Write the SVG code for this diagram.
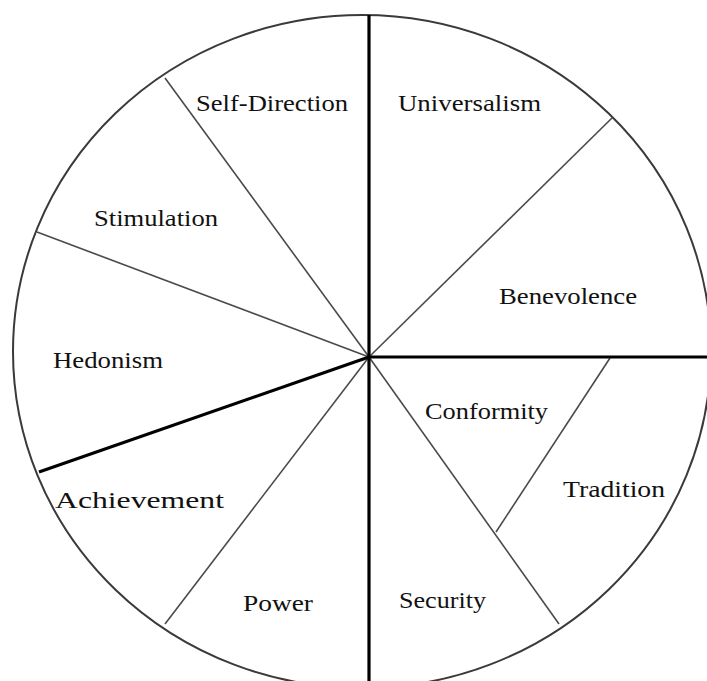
<svg xmlns="http://www.w3.org/2000/svg" width="707" height="681" viewBox="0 0 707 681">
<style>
.thin{stroke:#4a4a4a;stroke-width:1.6;fill:none}
.thick{stroke:#000;stroke-width:3.2;fill:none}
.rim{stroke:#3a3a3a;stroke-width:2;fill:#fff}
text{font-family:"Liberation Serif","Times New Roman",serif;font-size:23px;fill:#111}
</style>
<rect width="707" height="681" fill="#fff"/>
<g id="wheel">
<ellipse class="rim" cx="362" cy="351.5" rx="349" ry="336.5"/>
</g>
<g id="connectors">
<line class="thin" x1="369" y1="357" x2="165" y2="78"/>
<line class="thin" x1="369" y1="357" x2="37" y2="232"/>
<line class="thin" x1="369" y1="357" x2="613" y2="117"/>
<line class="thin" x1="369" y1="357" x2="165" y2="624"/>
<line class="thin" x1="369" y1="357" x2="559" y2="624"/>
<line class="thin" x1="610" y1="358" x2="496" y2="532"/>
<line class="thick" x1="369" y1="15" x2="369" y2="681"/>
<line class="thick" x1="369" y1="357" x2="707" y2="357"/>
<line class="thick" x1="369" y1="357" x2="39" y2="472"/>
</g>
<g id="self-direction"><text x="196" y="111" textLength="152" lengthAdjust="spacingAndGlyphs">Self-Direction</text></g>
<g id="universalism"><text x="398" y="111" textLength="143" lengthAdjust="spacingAndGlyphs">Universalism</text></g>
<g id="stimulation"><text x="94" y="226" textLength="124" lengthAdjust="spacingAndGlyphs">Stimulation</text></g>
<g id="benevolence"><text x="499" y="304" textLength="138" lengthAdjust="spacingAndGlyphs">Benevolence</text></g>
<g id="hedonism"><text x="53" y="368" textLength="110" lengthAdjust="spacingAndGlyphs">Hedonism</text></g>
<g id="conformity"><text x="425" y="419" textLength="123" lengthAdjust="spacingAndGlyphs">Conformity</text></g>
<g id="tradition"><text x="563" y="497" textLength="102" lengthAdjust="spacingAndGlyphs">Tradition</text></g>
<g id="achievement"><text x="55" y="508" textLength="169" lengthAdjust="spacingAndGlyphs">Achievement</text></g>
<g id="power"><text x="243" y="611" textLength="70" lengthAdjust="spacingAndGlyphs">Power</text></g>
<g id="security"><text x="399" y="608" textLength="87" lengthAdjust="spacingAndGlyphs">Security</text></g>
</svg>
